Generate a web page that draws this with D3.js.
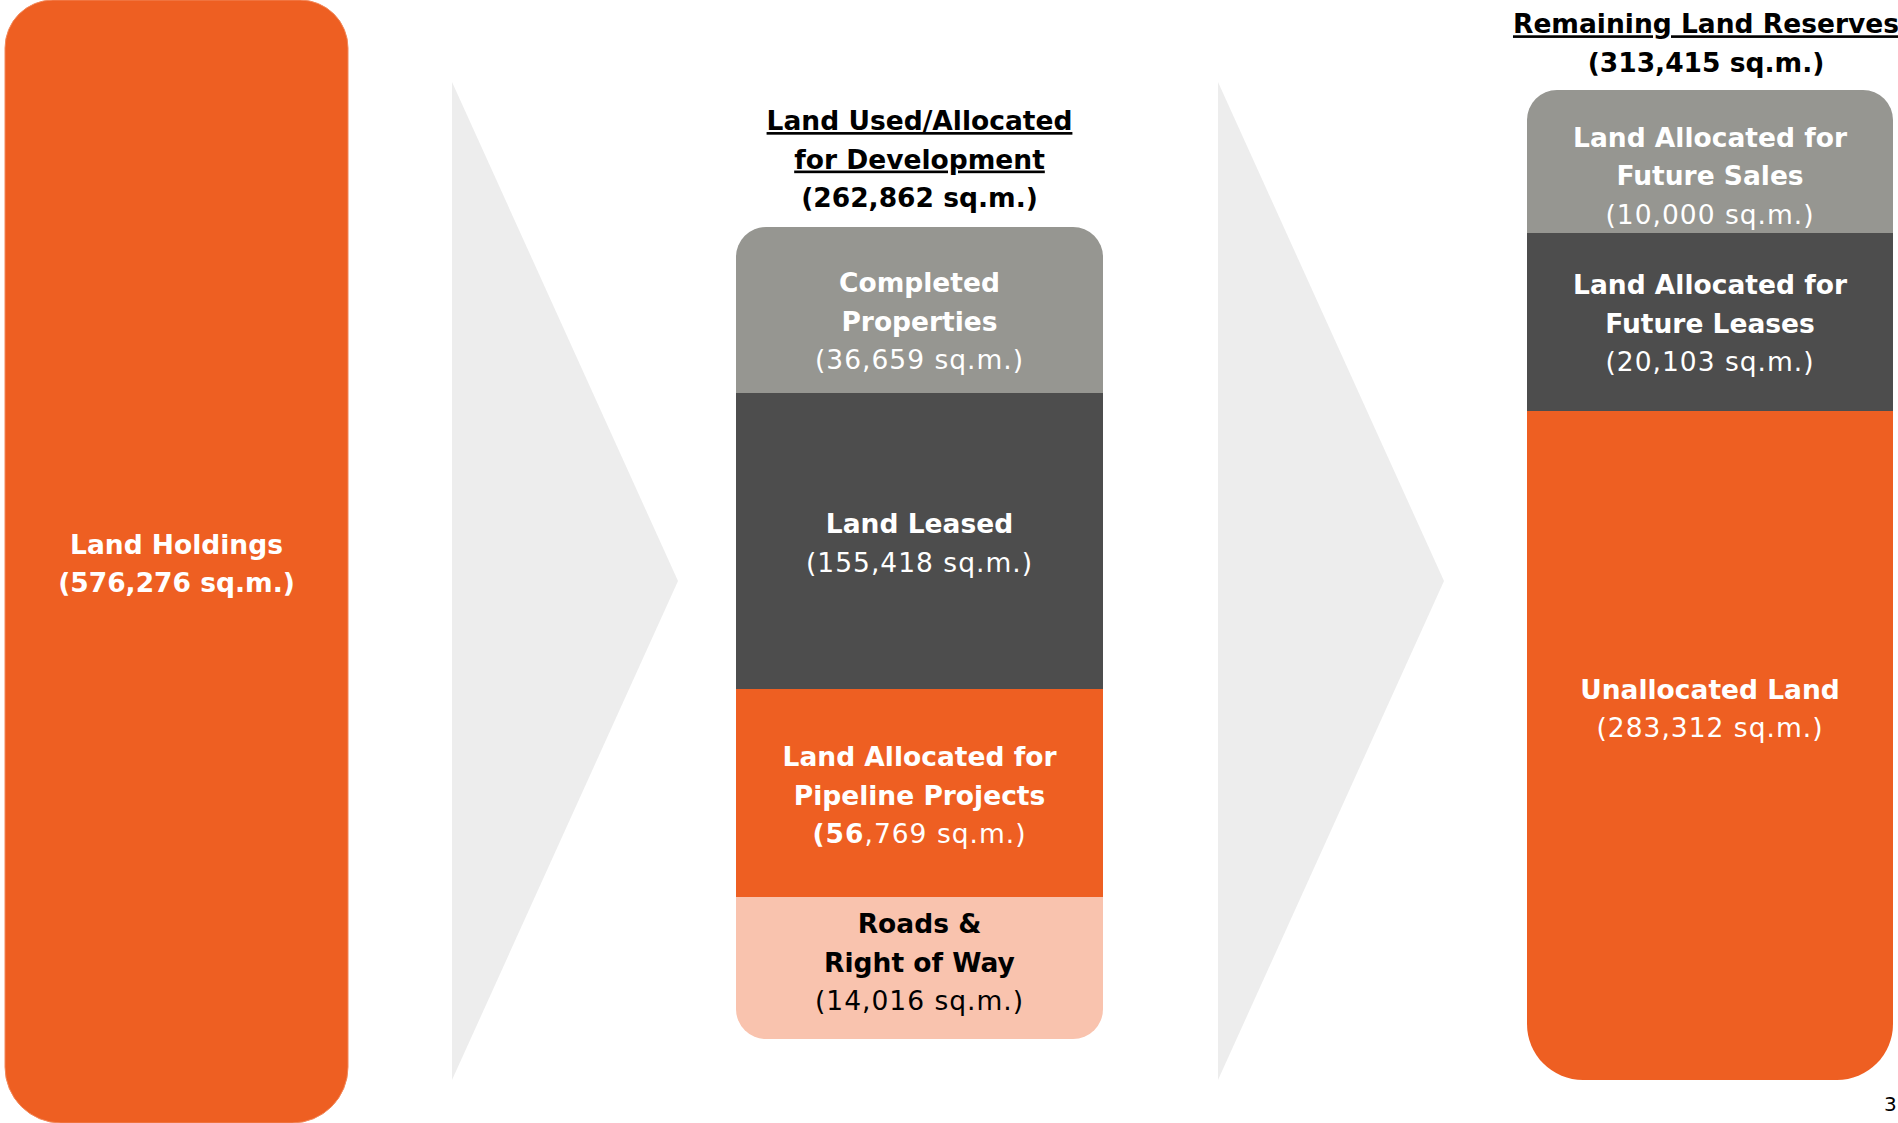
<!DOCTYPE html>
<html>
<head>
<meta charset="utf-8">
<script src="https://cdn.jsdelivr.net/npm/d3@7"></script>
<style>
  html, body { margin: 0; padding: 0; background: #ffffff; overflow: hidden; }
  svg { display: block; }
  text { font-family: "DejaVu Sans", "Noto Sans", sans-serif; }
</style>
</head>
<body>
<svg id="chart" width="1898" height="1123"></svg>
<script>
// ---- Land breakdown (sq.m.) ----
const holdingsLabel = ["Land Holdings"];
const holdingsValue = 576276;

const usedTitle = ["Land Used/Allocated", "for Development"];
const usedTotal = 262862;
const usedCategories = [
  ["Completed", "Properties"],
  ["Land Leased"],
  ["Land Allocated for", "Pipeline Projects"],
  ["Roads &", "Right of Way"]
];
const usedValues = [36659, 155418, 56769, 14016];

const reserveTitle = ["Remaining Land Reserves"];
const reserveTotal = 313415;
const reserveCategories = [
  ["Land Allocated for", "Future Sales"],
  ["Land Allocated for", "Future Leases"],
  ["Unallocated Land"]
];
const reserveValues = [10000, 20103, 283312];

// ---- Layout & styling ----
const W = 1898, H = 1123;
const ORANGE = "#EE5F22", GREY = "#969691", DARK = "#4D4D4D", PINK = "#F9C3AE", CHEVRON = "#EDEDED";
const usedSlots = [166, 296, 208, 142];          // box weights in the development column
const reserveSlots = [143, 178, 669];            // box weights in the reserves column
const usedFills = [GREY, DARK, ORANGE, PINK];
const usedInk = ["#ffffff", "#ffffff", "#ffffff", "#000000"];
const usedShift = [11, 2, 2, -6];
const usedBoldPrefix = [0, 0, 2, 0];
const reserveFills = [GREY, DARK, ORANGE];
const reserveShift = [14, 1, -37];

const FS = 26.5, LH = 38.5;
const fmt = d3.format(",");
const sqm = v => "(" + fmt(v) + " sq.m.)";

const svg = d3.select("#chart");

// rectangle with separate top/bottom corner radii
function roundedRect(x, y, w, h, rt, rb) {
  const p = d3.path();
  p.moveTo(x + rt, y);
  p.lineTo(x + w - rt, y);
  p.arcTo(x + w, y, x + w, y + rt, rt);
  p.lineTo(x + w, y + h - rb);
  p.arcTo(x + w, y + h, x + w - rb, y + h, rb);
  p.lineTo(x + rb, y + h);
  p.arcTo(x, y + h, x, y + h - rb, rb);
  p.lineTo(x, y + rt);
  p.arcTo(x, y, x + rt, y, rt);
  p.closePath();
  return p.toString();
}

// multi-line centred text block; lines: [{text, weight, parts?}]
function textBlock(g, cx, cy, lines, fill) {
  const n = lines.length;
  const y0 = cy - (n - 1) * LH / 2 + FS * 0.36;
  lines.forEach((ln, i) => {
    const t = g.append("text")
      .attr("x", cx).attr("y", y0 + i * LH)
      .attr("text-anchor", "middle")
      .attr("font-size", FS)
      .attr("fill", fill)
      .attr("font-weight", ln.weight || "bold");
    if (ln.weight === "normal" || ln.parts) t.attr("letter-spacing", 1);
    if (ln.underline) t.attr("text-decoration", "underline");
    if (ln.parts) {
      ln.parts.forEach(p => t.append("tspan").attr("font-weight", p.weight).text(p.text));
    } else {
      t.text(ln.text);
    }
  });
}

// chevrons between the columns
const chevrons = [[452, 678], [1218, 1444]];
svg.selectAll("path.chevron").data(chevrons).join("path")
  .attr("class", "chevron")
  .attr("fill", CHEVRON)
  .attr("d", d => `M${d[0]},82 L${d[1]},581 L${d[0]},1080 Z`);

// ---- Column 1: total holdings ----
const col1 = { x0: 5, x1: 348 };
const yHold = d3.scaleLinear().domain([0, holdingsValue]).range([0, H]);
svg.append("path")
  .attr("fill", ORANGE)
  .attr("stroke", "#F2885A").attr("stroke-width", 1)
  .attr("d", roundedRect(col1.x0, yHold(0), col1.x1 - col1.x0, yHold(holdingsValue) - yHold(0), 48, 56));
textBlock(svg.append("g"), (col1.x0 + col1.x1) / 2, (yHold(0) + yHold(holdingsValue)) / 2 + 2,
  [{ text: holdingsLabel[0] }, { text: sqm(holdingsValue) }], "#ffffff");

// stacked column of boxes
function stackColumn(x0, x1, yRange, slots, values, cats, fills, inks, shifts, boldPrefix, rTop, rBot) {
  const cum = [0];
  slots.forEach(s => cum.push(cum[cum.length - 1] + s));
  const y = d3.scaleLinear().domain([0, cum[cum.length - 1]]).range(yRange);
  const segs = values.map((v, i) => ({ v, i, a: y(cum[i]), b: y(cum[i + 1]) }));
  const g = svg.append("g");
  g.selectAll("path").data(segs).join("path")
    .attr("fill", d => fills[d.i])
    .attr("d", d => roundedRect(x0, d.a, x1 - x0, d.b - d.a,
      d.i === 0 ? rTop : 0, d.i === segs.length - 1 ? rBot : 0));
  segs.forEach(d => {
    const lines = cats[d.i].map(t => ({ text: t }));
    const s = sqm(d.v);
    const k = boldPrefix[d.i];
    lines.push(k ? { parts: [{ text: s.slice(0, k + 1), weight: "bold" }, { text: s.slice(k + 1), weight: "normal" }] }
                 : { text: s, weight: "normal" });
    textBlock(g, (x0 + x1) / 2, (d.a + d.b) / 2 + shifts[d.i], lines, inks[d.i]);
  });
  return segs;
}

// ---- Column 2: land used / allocated ----
const col2 = { x0: 736, x1: 1103 };
textBlock(svg.append("g"), (col2.x0 + col2.x1) / 2, 159,
  [{ text: usedTitle[0], underline: true }, { text: usedTitle[1], underline: true }, { text: sqm(usedTotal) }], "#000000");
stackColumn(col2.x0, col2.x1, [227, 1039], usedSlots, usedValues, usedCategories,
  usedFills, usedInk, usedShift, usedBoldPrefix, 30, 30);

// ---- Column 3: remaining reserves ----
const col3 = { x0: 1527, x1: 1893 };
textBlock(svg.append("g"), (col3.x0 + col3.x1) / 2 - 4, 43,
  [{ text: reserveTitle[0], underline: true }, { text: sqm(reserveTotal) }], "#000000");
stackColumn(col3.x0, col3.x1, [90, 1080], reserveSlots, reserveValues, reserveCategories,
  reserveFills, ["#ffffff", "#ffffff", "#ffffff"], reserveShift, [0, 0, 0], 30, 56);

// page number
svg.append("text").attr("x", 1884).attr("y", 1111)
  .attr("font-size", 20).attr("fill", "#000").text("3");
</script>
</body>
</html>
